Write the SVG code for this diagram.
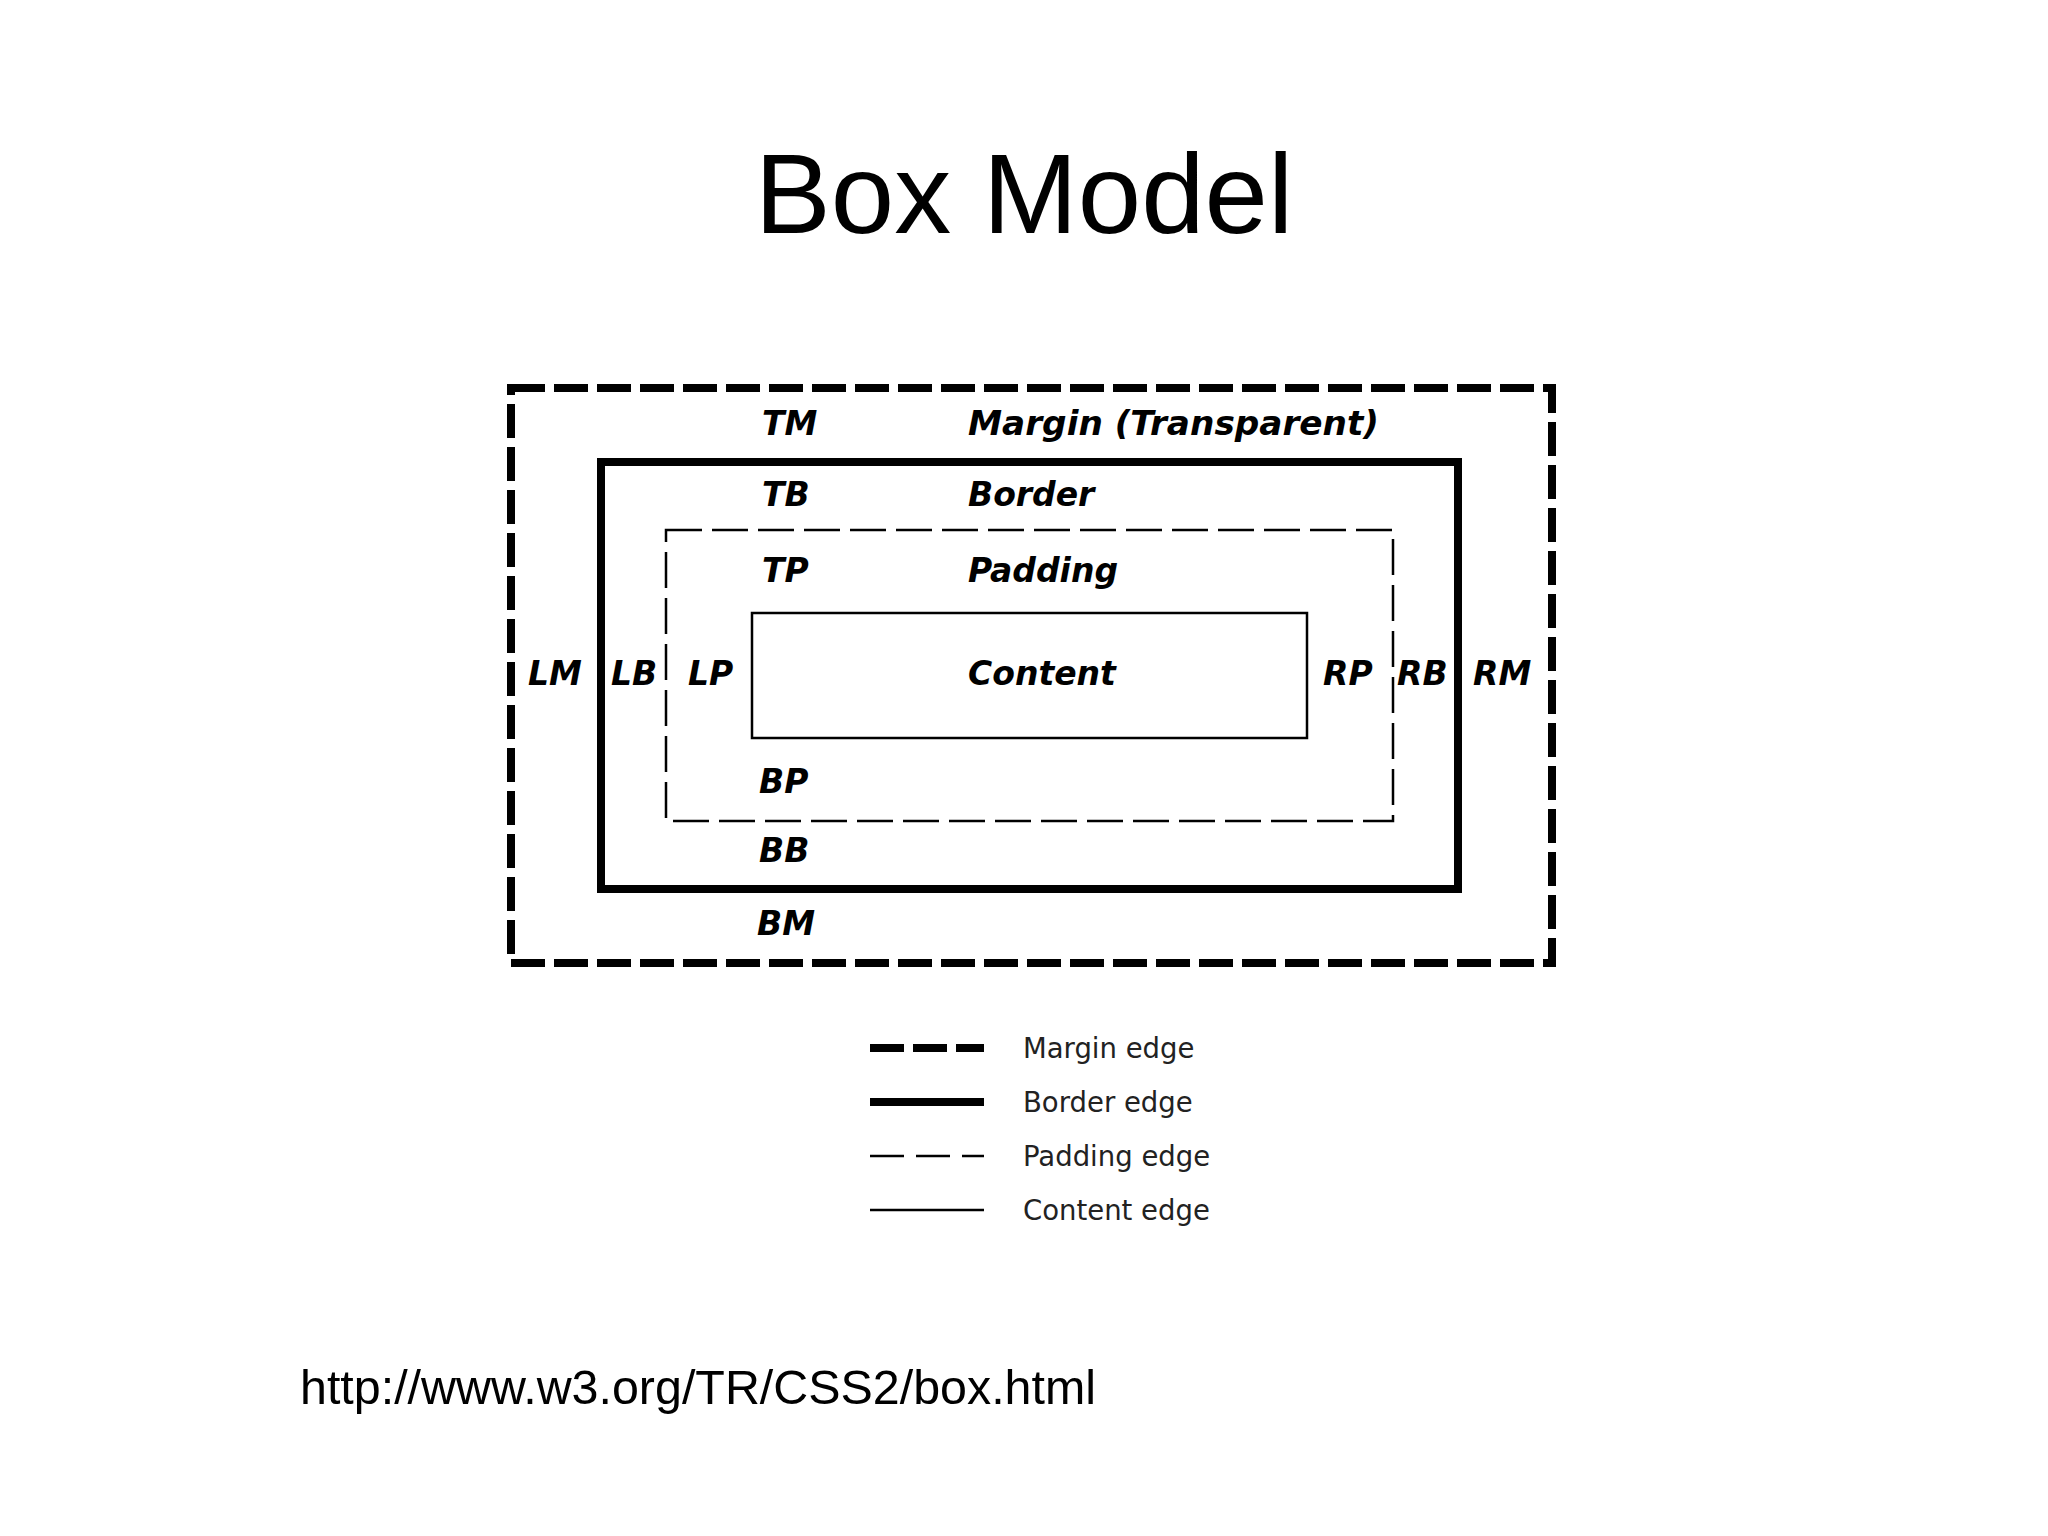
<svg xmlns="http://www.w3.org/2000/svg" width="2048" height="1536" viewBox="0 0 2048 1536">
<style>
.bg{fill:#ffffff}
.title{font-family:"Liberation Sans",Arial,sans-serif;font-size:114px;fill:#000}
.url{font-family:"Liberation Sans",Arial,sans-serif;font-size:48px;fill:#000}
.lbl{font-family:"DejaVu Sans",Verdana,sans-serif;font-size:33px;font-weight:bold;font-style:italic;fill:#000}
.leg{font-family:"DejaVu Sans",Verdana,sans-serif;font-size:27.5px;fill:#222}
.margin{fill:none;stroke:#000;stroke-width:8;stroke-dasharray:34 9}
.border{fill:none;stroke:#000;stroke-width:8}
.padding{fill:none;stroke:#000;stroke-width:2.5;stroke-dasharray:36 10}
.content{fill:none;stroke:#000;stroke-width:2.5}
</style>
<rect class="bg" x="0" y="0" width="2048" height="1536"/>
<text class="title" x="1024" y="233" text-anchor="middle">Box Model</text>

<g id="margin-box">
<rect class="margin" x="511" y="388" width="1041" height="575"/>
<text class="lbl" x="762" y="435">TM</text>
<text class="lbl" x="968" y="435" textLength="411" lengthAdjust="spacingAndGlyphs">Margin (Transparent)</text>
<text class="lbl" x="528" y="685">LM</text>
<text class="lbl" x="1473" y="685">RM</text>
<text class="lbl" x="757" y="935">BM</text>
</g>
<g id="border-box">
<rect class="border" x="601" y="462" width="857" height="427"/>
<text class="lbl" x="762" y="506">TB</text>
<text class="lbl" x="968" y="506">Border</text>
<text class="lbl" x="611" y="685">LB</text>
<text class="lbl" x="1397" y="685">RB</text>
<text class="lbl" x="759" y="862">BB</text>
</g>
<g id="padding-box">
<rect class="padding" x="666" y="530" width="727" height="291"/>
<text class="lbl" x="762" y="582">TP</text>
<text class="lbl" x="968" y="582">Padding</text>
<text class="lbl" x="688" y="685">LP</text>
<text class="lbl" x="1323" y="685">RP</text>
<text class="lbl" x="759" y="793">BP</text>
</g>
<g id="content-box">
<rect class="content" x="752" y="613" width="555" height="125"/>
<text class="lbl" x="968" y="685">Content</text>
</g>

<g id="connectors"/>

<g id="legend">
<line x1="870" y1="1048" x2="984" y2="1048" stroke="#000" stroke-width="8" stroke-dasharray="34 9"/>
<text class="leg" x="1023" y="1058">Margin edge</text>
<line x1="870" y1="1102" x2="984" y2="1102" stroke="#000" stroke-width="8"/>
<text class="leg" x="1023" y="1112">Border edge</text>
<line x1="870" y1="1156" x2="984" y2="1156" stroke="#000" stroke-width="2.5" stroke-dasharray="34 12"/>
<text class="leg" x="1023" y="1166">Padding edge</text>
<line x1="870" y1="1210" x2="984" y2="1210" stroke="#000" stroke-width="2.5"/>
<text class="leg" x="1023" y="1220">Content edge</text>
</g>

<text class="url" x="300" y="1404" textLength="796" lengthAdjust="spacingAndGlyphs">http://www.w3.org/TR/CSS2/box.html</text>
</svg>
